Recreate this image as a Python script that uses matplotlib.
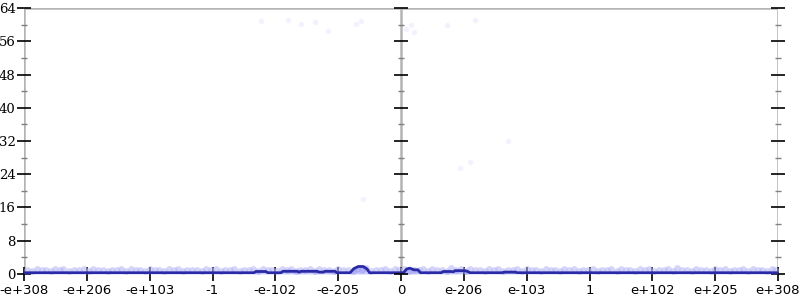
import numpy as np
import matplotlib.pyplot as plt

# x positions are tick slots: 0 = -e+308, 6 = 0, 12 = e+308
tick_labels = ["-e+308", "-e+206", "-e+103", "-1", "-e-102", "-e-205", "0",
               "e-206", "e-103", "1", "e+102", "e+205", "e+308"]

line_x = [0, 3.66, 3.69, 3.85, 3.88, 4.09, 4.12, 4.35, 4.38, 4.41, 4.66, 4.70,
          4.76, 4.79, 4.95, 4.98, 5.19, 5.25, 5.32, 5.40, 5.46, 5.50, 6.04, 6.09,
          6.14, 6.21, 6.27, 6.31, 6.64, 6.67, 6.80, 6.83, 6.86, 7.02, 7.06, 7.10,
          7.61, 7.64, 7.82, 7.85, 12]
line_y = [0.3, 0.3, 0.6, 0.6, 0.3, 0.3, 0.65, 0.65, 0.45, 0.65, 0.65, 0.45,
          0.45, 0.65, 0.65, 0.3, 0.3, 1.3, 1.8, 1.8, 1.2, 0.3, 0.3, 1.2,
          1.4, 1.0, 1.0, 0.3, 0.3, 0.6, 0.6, 0.5, 0.8, 0.8, 0.6, 0.3,
          0.3, 0.45, 0.45, 0.3, 0.3]

# faint sample points along the bottom
band_x = [0.05, 0.2, 0.35, 0.5, 0.62, 0.8, 0.95, 1.1, 1.25, 1.4, 1.55, 1.7,
          1.85, 2.0, 2.15, 2.3, 2.45, 2.6, 2.75, 2.9, 3.05, 3.2, 3.35, 3.5,
          3.65, 3.8, 3.95, 4.1, 4.25, 4.4, 4.55, 4.7, 4.85, 5.0, 5.15, 5.3,
          5.45, 5.6, 5.75, 5.9, 6.05, 6.2, 6.35, 6.5, 6.65, 6.8, 6.95, 7.1,
          7.25, 7.4, 7.55, 7.7, 7.85, 8.0, 8.15, 8.3, 8.45, 8.6, 8.75, 8.9,
          9.05, 9.2, 9.35, 9.5, 9.65, 9.8, 9.95, 10.1, 10.25, 10.4, 10.55,
          10.7, 10.85, 11.0, 11.15, 11.3, 11.45, 11.6, 11.75, 11.9]
band_y = [1.0, 1.2, 0.9, 1.1, 1.3, 0.9, 1.1, 1.2, 1.0, 0.9, 1.2, 1.1,
          0.9, 1.3, 1.0, 1.1, 1.2, 0.9, 1.0, 1.2, 1.1, 0.9, 1.2, 1.0,
          1.1, 1.3, 0.9, 1.1, 1.2, 1.0, 1.3, 1.1, 0.9, 1.2, 1.0, 1.1,
          1.4, 1.0, 1.2, 1.1, 1.3, 0.9, 1.1, 1.2, 1.0, 1.4, 1.1, 1.2,
          0.9, 1.1, 1.3, 1.0, 1.2, 1.1, 0.9, 1.2, 1.0, 1.3, 1.1, 0.9,
          1.2, 1.0, 1.1, 1.3, 0.9, 1.1, 1.2, 1.0, 1.1, 1.4, 1.0,
          1.2, 0.9, 1.1, 1.2, 1.0, 1.3, 1.1, 0.9, 1.2]
band2_x = [0.12, 0.28, 0.43, 0.57, 0.72, 0.88, 1.03, 1.18, 1.33, 1.48, 1.63,
           1.78, 1.93, 2.08, 2.23, 2.38, 2.53, 2.68, 2.83, 2.98, 3.13, 3.28,
           3.43, 3.58, 3.73, 3.88, 4.03, 4.18, 4.33, 4.48, 4.63, 4.78, 4.93,
           5.08, 5.23, 5.38, 5.53, 5.68, 5.83, 5.97, 6.12, 6.28, 6.43, 6.58,
           6.73, 6.88, 7.03, 7.18, 7.33, 7.48, 7.63, 7.78, 7.93, 8.08, 8.23,
           8.38, 8.53, 8.68, 8.83, 8.98, 9.13, 9.28, 9.43, 9.58, 9.73, 9.88,
           10.03, 10.18, 10.33, 10.48, 10.63, 10.78, 10.93, 11.08, 11.23,
           11.38, 11.53, 11.68, 11.83, 11.96]
band2_y = [0.8, 0.9, 0.8, 1.0, 0.8, 0.9, 0.8, 1.0, 0.8, 0.9, 0.8,
           1.0, 0.8, 0.9, 0.8, 1.0, 0.8, 0.9, 0.8, 1.0, 0.8, 0.9,
           0.8, 1.0, 0.8, 0.9, 0.8, 1.0, 0.8, 0.9, 0.8, 1.0, 0.8,
           0.9, 0.8, 1.0, 0.8, 0.9, 0.8, 1.0, 0.8, 0.9, 0.8, 1.0,
           0.8, 0.9, 0.8, 1.0, 0.8, 0.9, 0.8, 1.0, 0.8, 0.9, 0.8,
           1.0, 0.8, 0.9, 0.8, 1.0, 0.8, 0.9, 0.8, 1.0, 0.8, 0.9,
           0.8, 1.0, 0.8, 0.9, 0.8, 1.0, 0.8, 0.9, 0.8,
           1.0, 0.8, 0.9, 0.8, 1.0]

# sparse outliers
out_x = [3.77, 4.20, 4.41, 4.63, 4.84, 5.28, 5.36, 6.08, 6.16, 6.21, 6.73,
         7.18, 5.40, 6.94, 7.10, 7.70]
out_y = [60.9, 61.1, 60.2, 60.6, 58.5, 60.2, 60.9, 59.0, 60.0, 58.3, 60.0,
         61.1, 18.0, 25.5, 27.0, 32.0]

fig = plt.figure(figsize=(8, 3), dpi=100)
ax = fig.add_axes([0.03, 0.0867, 0.9425, 0.8866])
ax.set_xlim(0, 12)
ax.set_ylim(0, 64)

ax.scatter(band_x, band_y, s=24, color="#b4b4f8", alpha=0.55, lw=0, zorder=2)
ax.scatter(band2_x, band2_y, s=24, color="#b4b4f8", alpha=0.55, lw=0, zorder=2)
ax.scatter(out_x, out_y, s=16, color="#e4e4ff", alpha=0.45, lw=0, zorder=2)
ax.fill_between(line_x, line_y, color="#7070f0", alpha=0.35, lw=0, zorder=3)
ax.plot(line_x, line_y, color="#2a2aa6", lw=2, zorder=4)

for s in ax.spines.values():
    s.set_visible(False)
gray = "#b4b4b4"
for xv in [0, 6, 12]:
    ax.axvline(xv, color=gray, lw=1.8, zorder=1)
ax.axhline(64, color=gray, lw=1.8, zorder=1)

yt = np.arange(0, 65, 8)
ax.set_yticks(yt)
ax.set_yticklabels([str(v) for v in yt], family="DejaVu Serif", fontsize=9.5)
ax.set_yticks(np.arange(4, 64, 8), minor=True)
ax.yaxis.set_ticks_position("both")
ax.tick_params(axis="y", which="major", direction="inout", length=10, width=1.2,
               color="black", pad=1)
ax.tick_params(axis="y", which="minor", direction="inout", length=5, width=1,
               color="#808080")

# ticks on the centre axis
ax.plot([6] * len(yt), yt, ls="none", marker="_", ms=10, mew=1.2, color="black",
        zorder=5, clip_on=False)
ax.plot([6] * 8, np.arange(4, 64, 8), ls="none", marker="_", ms=5, mew=1,
        color="#808080", zorder=5)

ax.set_xticks(range(13))
ax.set_xticklabels(tick_labels, family="DejaVu Sans", fontsize=9.5)
ax.tick_params(axis="x", direction="inout", length=10, width=1.2, color="black", pad=2)

fig.savefig("out.png")
